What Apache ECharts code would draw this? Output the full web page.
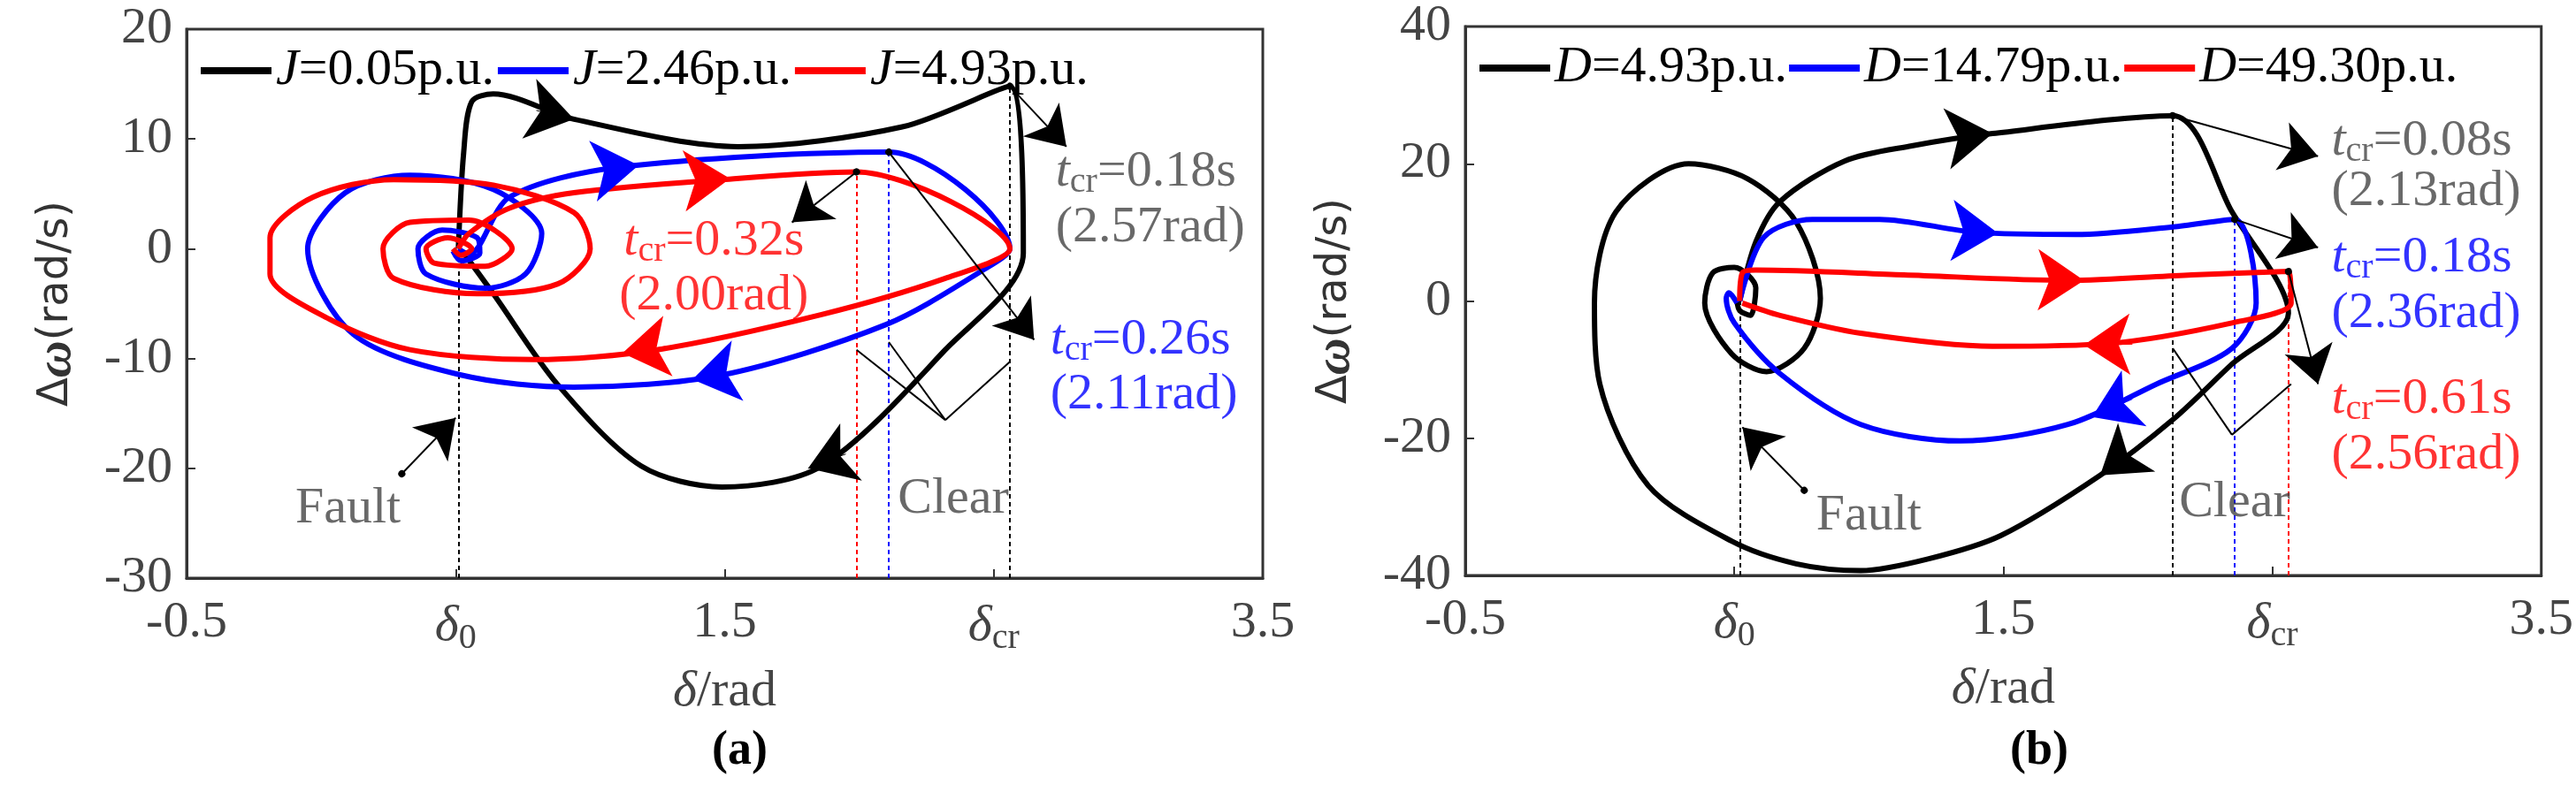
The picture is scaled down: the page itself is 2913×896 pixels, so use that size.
<!DOCTYPE html>
<html><head><meta charset="utf-8">
<script src="https://cdn.jsdelivr.net/npm/echarts@6/dist/echarts.min.js"></script>
<style>html,body{margin:0;padding:0;background:#fff}#c{width:2913px;height:896px}</style>
</head><body><div id="c"></div>
<script>
// ---------- data (δ rad, Δω rad/s) ----------
const xTicks = ['-0.5', 'δ0', '1.5', 'δcr', '3.5'];
const namesA = ['J=0.05p.u.', 'J=2.46p.u.', 'J=4.93p.u.'];
const namesB = ['D=4.93p.u.', 'D=14.79p.u.', 'D=49.30p.u.'];
const aBlack = [[0.51,0],[0.53,8.8],[0.56,13.4],[0.64,14.1],[0.94,11.8],[1.55,9.3],[2.16,11.1],[2.56,14.8],[2.61,-0.4],[2.32,-9.2],[1.86,-19.8],[1.49,-21.7],[1.19,-19.8],[0.88,-12.4],[0.64,-4.1],[0.53,-0.4]];
const aBlue = [[0.51,0],[0.55,-0.5],[0.70,4.7],[1.10,7.4],[2.11,8.8],[2.56,0],[2.47,-1.8],[2.10,-6.9],[1.49,-11.5],[0.94,-12.6],[0.52,-11.5],[0.12,-7.8],[-0.05,0],[0.09,5.1],[0.33,6.7],[0.64,5.4],[0.82,1.4],[0.76,-2.3],[0.61,-3.6],[0.39,-2.3],[0.36,0],[0.45,1.7],[0.58,1],[0.59,-0.4],[0.52,-1.1],[0.49,-0.2]];
const aRed = [[0.51,0],[0.55,1.4],[0.70,3.7],[0.94,5.1],[1.49,6.3],[1.99,7.0],[2.56,0],[2.32,-2.7],[1.86,-6],[1.25,-9.2],[0.79,-10.1],[0.33,-9.2],[0.03,-6.4],[-0.19,-2.3],[-0.19,1],[-0.03,4.7],[0.27,6.3],[0.64,5.8],[0.94,3.3],[1.0,0],[0.88,-3.2],[0.58,-4.1],[0.27,-2.7],[0.23,0],[0.33,2.4],[0.55,2.6],[0.71,0],[0.61,-1.6],[0.42,-1.3],[0.39,0],[0.47,1],[0.56,0],[0.52,-0.6],[0.49,0]];
const bBlack = [[0.52,0],[0.58,8.6],[0.67,14.5],[0.91,20.4],[1.16,22.6],[1.46,24.4],[2.13,27],[2.35,13],[2.56,-1.8],[2.35,-9.2],[2.13,-17.3],[1.86,-25.4],[1.49,-34.2],[1.22,-37.6],[0.97,-39.3],[0.73,-38.3],[0.49,-35],[0.18,-26.9],[0.0,-12.1],[-0.02,-0.3],[0.06,13],[0.33,20],[0.55,17.8],[0.73,11.5],[0.82,0.4],[0.76,-6.9],[0.62,-10.3],[0.49,-7.7],[0.39,-0.3],[0.42,4.1],[0.50,4.9],[0.58,1.9],[0.56,-2.1],[0.52,-1.4],[0.51,0]];
const bBlue = [[0.52,0],[0.61,9.3],[0.79,11.9],[1.04,11.9],[1.40,10.0],[1.77,9.7],[2.13,10.8],[2.36,11.9],[2.44,-0.3],[2.35,-6.9],[2.07,-12.1],[1.74,-18],[1.34,-20.4],[0.97,-18],[0.67,-10.6],[0.50,-3.2],[0.47,0.4],[0.48,1.2],[0.51,-0.3]];
const bRed = [[0.52,0],[0.53,4.1],[0.58,4.5],[1.13,3.8],[1.74,3.0],[2.20,3.8],[2.56,4.3],[2.57,-0.3],[2.35,-3.2],[1.89,-6.2],[1.46,-6.6],[0.97,-4.7],[0.67,-2.1],[0.53,-0.3]];
// direction arrows [x1,y1,x2,y2,colour index]
const aArrows = [[0.80,12.6,0.94,11.8,0],[1.95,-18.7,1.81,-20.0,0],[1.02,7.1,1.18,7.6,1],[1.55,-11.1,1.38,-11.9,1],[1.36,6.2,1.52,6.4,2],[1.28,-8.9,1.12,-9.5,2]];
const bArrows = [[1.28,23.6,1.46,24.4,0],[1.98,-21.8,1.86,-25.4,0],[1.30,10.3,1.48,9.9,1],[1.98,-14.3,1.83,-16.9,1],[1.62,3.1,1.80,3.0,2],[1.98,-6.3,1.80,-6.4,2]];
// annotation leaders [x1,y1,x2,y2] with arrow
const aLeaders = [[2.56,14.8,2.77,9.3],[1.99,7.0,1.75,2.4],[2.11,8.8,2.65,-8.3],[0.30,-20.5,0.50,-15.4]];
const bLeaders = [[2.13,27,2.67,21.1],[2.36,11.9,2.67,7.8],[2.56,4.3,2.67,-12.1],[0.76,-27.6,0.53,-18.4]];
const aClear = [[2.32,-15.6,1.99,-9.2],[2.32,-15.6,2.11,-8.5],[2.32,-15.6,2.56,-10.3]];
const bClear = [[2.35,-19.5,2.13,-6.9],[2.35,-19.5,2.57,-12.1]];
// dashed verticals [x, top, colour index]
const aDash = [[0.51,0,0],[1.99,7.0,2],[2.11,8.8,1],[2.56,14.8,0]];
const bDash = [[0.52,0,0],[2.13,27,0],[2.36,11.9,1],[2.56,4.3,2]];
// texts [x,y,text,colour,align]
const aTexts = [[2.73,7.0,'{i|t}{s|cr}=0.18s','#444','l'],[2.73,1.9,'(2.57rad)','#444','l'],[1.46,0.7,'{i|t}{s|cr}=0.32s','#f00','c'],[1.46,-4.3,'(2.00rad)','#f00','c'],[2.71,-8.3,'{i|t}{s|cr}=0.26s','#00f','l'],[2.71,-13.3,'(2.11rad)','#00f','l'],[0.10,-23.7,'Fault','#444','c'],[2.35,-22.8,'Clear','#444','c']];
const bTexts = [[2.72,23.3,'{i|t}{s|cr}=0.08s','#444','l'],[2.72,15.9,'(2.13rad)','#444','l'],[2.72,6.3,'{i|t}{s|cr}=0.18s','#00f','l'],[2.72,-1.8,'(2.36rad)','#00f','l'],[2.72,-14.3,'{i|t}{s|cr}=0.61s','#f00','l'],[2.72,-22.4,'(2.56rad)','#f00','l'],[1.0,-31.3,'Fault','#444','c'],[2.36,-29.4,'Clear','#444','c']];

const COL = ['#000', '#00f', '#f00'];
const FF = '"Liberation Serif", "DejaVu Serif", serif';
const FS = 58;
const rich = {i:{fontStyle:'italic',fontFamily:FF,fontSize:FS}, s:{fontFamily:FF,fontSize:40,padding:[24,0,0,0]}};

const series = [];
function addPanel(g, curves, names, arrows, leaders, clear, dash, texts, ymin) {
  curves.forEach((d,k) => series.push({type:'line', name:names[k], xAxisIndex:g, yAxisIndex:g, data:d, showSymbol:false, smooth:0.3, lineStyle:{color:COL[k], width:6}, itemStyle:{color:COL[k]}, z:3}));
  series.push({type:'lines', coordinateSystem:'cartesian2d', xAxisIndex:g, yAxisIndex:g, symbol:['none','arrow'], symbolSize:52, z:5,
    data: arrows.map(a => ({coords:[[a[0],a[1]],[a[2],a[3]]], lineStyle:{color:COL[a[4]], width:1, opacity:1}})), lineStyle:{width:1, opacity:1}});
  series.push({type:'lines', coordinateSystem:'cartesian2d', xAxisIndex:g, yAxisIndex:g, symbol:['circle','arrow'], symbolSize:[8,42], z:4,
    data: leaders.map(a => ({coords:[[a[0],a[1]],[a[2],a[3]]]})), lineStyle:{color:'#000', width:2, opacity:1}});
  series.push({type:'lines', coordinateSystem:'cartesian2d', xAxisIndex:g, yAxisIndex:g, z:4,
    data: clear.map(a => ({coords:[[a[0],a[1]],[a[2],a[3]]]})), lineStyle:{color:'#000', width:2, opacity:1}});
  series.push({type:'lines', coordinateSystem:'cartesian2d', xAxisIndex:g, yAxisIndex:g, z:2,
    data: dash.map(a => ({coords:[[a[0],ymin],[a[0],a[1]]], lineStyle:{color:COL[a[2]], width:2, type:[5,4], opacity:1}}))});
  series.push({type:'scatter', xAxisIndex:g, yAxisIndex:g, symbolSize:0, z:6,
    data: texts.map(t => ({value:[t[0],t[1]], label:{show:true, position:t[4]==='l'?'right':'inside', distance:0, formatter:t[2], color:t[3], fontFamily:FF, fontSize:FS, rich:{i:Object.assign({},rich.i,{color:t[3]}), s:Object.assign({},rich.s,{color:t[3]})}}}))});
}
addPanel(0, [aBlack,aBlue,aRed], namesA, aArrows, aLeaders, aClear, aDash, aTexts, -30);
addPanel(1, [bBlack,bBlue,bRed], namesB, bArrows, bLeaders, bClear, bDash, bTexts, -40);

function xAx(g){ return {type:'value', gridIndex:g, min:-0.5, max:3.5, interval:1,
  name:'{i|δ}/rad', nameLocation:'middle', nameGap:100, nameTextStyle:{fontFamily:FF,fontSize:FS,color:'#444',rich:{i:{fontStyle:'italic',fontFamily:FF,fontSize:FS,color:'#444'}}},
  axisLine:{onZero:false,lineStyle:{color:'#333',width:3}}, axisTick:{inside:true,length:10,lineStyle:{width:2}}, splitLine:{show:false},
  axisLabel:{margin:22, fontFamily:FF, fontSize:FS, color:'#444', formatter:(v)=>{const t=xTicks[Math.round(v+0.5)]; return t==='δ0'?'{i|δ}{s|0}':t==='δcr'?'{i|δ}{s|cr}':t;},
    rich:{i:{fontStyle:'italic',fontFamily:FF,fontSize:FS,color:'#444'}, s:{fontFamily:FF,fontSize:40,color:'#444',padding:[26,0,0,0]}}}};}
function yAx(g,min,max,iv){ return {type:'value', gridIndex:g, min:min, max:max, interval:iv,
  name:'Δ{w|ω}(rad/s)', nameLocation:'middle', nameGap:118, nameTextStyle:{fontFamily:'DejaVu Sans',fontSize:48,color:'#333',rich:{w:{fontFamily:FF,fontWeight:'bold',fontStyle:'italic',fontSize:58,color:'#333'}}},
  axisLine:{onZero:false,lineStyle:{color:'#333',width:3}}, axisTick:{inside:true,length:10,lineStyle:{width:2}}, splitLine:{show:false},
  axisLabel:{margin:16, fontFamily:FF, fontSize:FS, color:'#444'}};}

const legendRich = {i:{fontStyle:'italic',fontFamily:FF,fontSize:FS,color:'#000'}, n:{fontFamily:FF,fontSize:FS,color:'#000'}};
const chart = echarts.init(document.getElementById('c'));
chart.setOption({
  animation:false,
  grid:[{left:211,top:33,width:1217,height:621,show:true,borderColor:'#333',borderWidth:3},
        {left:1657,top:30,width:1217,height:621,show:true,borderColor:'#333',borderWidth:3}],
  xAxis:[xAx(0),xAx(1)],
  yAxis:[yAx(0,-30,20,10),yAx(1,-40,40,20)],
  legend:[{data:namesA,left:222,top:46,itemWidth:80,itemHeight:8,itemGap:4,selectedMode:false,icon:'rect',
           formatter:n=>'{i|'+n[0]+'}{n|'+n.slice(1)+'}',textStyle:{rich:legendRich}},
          {data:namesB,left:1668,top:43,itemWidth:80,itemHeight:8,itemGap:2,selectedMode:false,icon:'rect',
           formatter:n=>'{i|'+n[0]+'}{n|'+n.slice(1)+'}',textStyle:{rich:legendRich}}],
  title:[{text:'(a)',left:800,top:818,textStyle:{fontFamily:FF,fontSize:54,fontWeight:'bold',color:'#000'}},
         {text:'(b)',left:2268,top:818,textStyle:{fontFamily:FF,fontSize:54,fontWeight:'bold',color:'#000'}}],
  series:series
});
</script></body></html>
